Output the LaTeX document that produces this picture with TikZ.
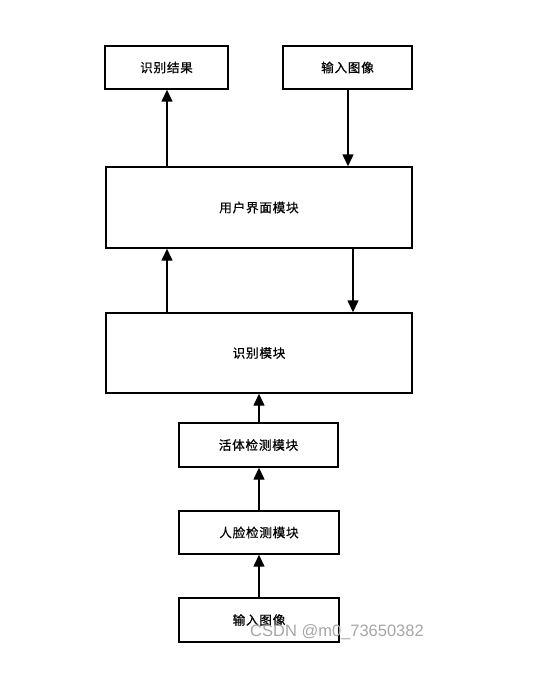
\documentclass[tikz,border=0pt]{standalone}
\usepackage{fontspec}
\newfontfamily\cjk[LetterSpace=6,FakeBold=0.6]{Noto Sans CJK SC}
\usetikzlibrary{arrows.meta}
\begin{document}
\begin{tikzpicture}[x=1pt,y=-1pt,
  box/.style={draw=black,line width=1.4pt,inner sep=0pt,font=\cjk\fontsize{12.6}{14}\selectfont},
  arr/.style={line width=1.4pt,-{Triangle[length=12pt,width=11pt]}}]
\useasboundingbox (0,0) rectangle (534,690);
\node[box,minimum width=123pt,minimum height=43pt] (res) at (166.5,67.5) {识别结果};
\node[box,minimum width=129pt,minimum height=43pt] (in1) at (347.5,67.5) {输入图像};
\node[box,minimum width=306pt,minimum height=81pt] (ui) at (259,207.5) {用户界面模块};
\node[box,minimum width=306pt,minimum height=80pt] (rec) at (259,353) {识别模块};
\node[box,minimum width=159pt,minimum height=44pt] (live) at (258.5,445) {活体检测模块};
\node[box,minimum width=160pt,minimum height=43pt] (face) at (259,532.5) {人脸检测模块};
\node[box,minimum width=160pt,minimum height=44pt] (in2) at (259,620) {输入图像};
\draw[arr] (ui.north -| 167,0) -- (res.south -| 167,0);
\draw[arr] (in1.south -| 348,0) -- (ui.north -| 348,0);
\draw[arr] (rec.north -| 167,0) -- (ui.south -| 167,0);
\draw[arr] (ui.south -| 353,0) -- (rec.north -| 353,0);
\draw[arr] (live.north -| 259,0) -- (rec.south -| 259,0);
\draw[arr] (face.north -| 259,0) -- (live.south -| 259,0);
\draw[arr] (in2.north -| 259,0) -- (face.south -| 259,0);
\node[text=black!35,font=\fontspec{Liberation Sans}\fontsize{16.5}{18}\selectfont,anchor=west,inner sep=0pt] (wm) at (250,632) {CSDN @m0\_73650382};
\end{tikzpicture}
\end{document}
